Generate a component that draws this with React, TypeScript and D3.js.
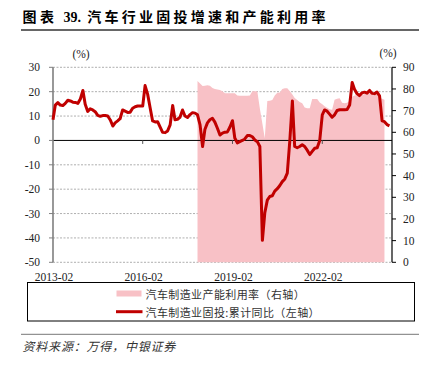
import React from "react";
import * as d3 from "d3";

// 汽车制造业固投:累计同比 (左轴), monthly from 2013-02
const lineStart = "2013-02";
const lineValues = [
  8.5, 14.5, 15.5, 14.5, 14.3, 15.2, 16.5, 16.2, 15.7, 15.6, 15.2, 17.0,
  20.5, 14.8, 11.9, 13.0, 12.5, 11.8, 10.3, 9.9, 10.2, 10.2, 10.0, 8.4,
  5.9, 7.2, 8.0, 8.9, 12.5, 12.0, 11.5, 11.6, 13.2, 13.8, 14.1, 14.1,
  14.1, 22.5, 19.0, 13.5, 8.0, 7.6, 7.7, 5.5, 3.3, 3.2, 3.9, 6.4,
  14.3, 8.5, 8.7, 9.5, 12.5, 10.0, 9.4, 10.6, 11.4, 11.2, 10.5, 6.4,
  -2.5, 4.5, 7.2, 8.5, 9.1, 7.5, 5.0, 2.2, 3.0, 3.4, 3.5, 5.5,
  8.1, 1.0, -1.0, -0.5, 0.0, 0.6, 2.0, 2.0, 1.5, 0.2, -0.5, -2.5,
  -41, -29.8, -24.5, -23, -22.7, -20.8, -19.8, -18.5, -16.9, -15.8, -13.4, 0,
  16.2, -2.5, -3.0, -2.5, -1.8, -2.5, -4.0, -5.8, -4.5, -3.2, -3.0, 0.0,
  10.5, 12.5, 12.0, 10.8, 9.5, 10.5, 12.3, 12.6, 12.6, 12.6, 12.7, 14.5,
  23.8, 21.0, 19.2, 18.4, 19.5, 19.8, 19.4, 20.5, 19.3, 19.2, 19.8, 18.3,
  8.0, 7.7, 6.5, 6.0,
];

// 汽车制造业产能利用率 (右轴), monthly from 2017-12
const areaStart = "2017-12";
const areaValues = [
  83.7, 82.5, 81.4, 81.5, 81.7, 81.5, 80.5, 80, 79.8, 79.5, 79, 78,
  78, 78, 78, 78, 77, 76.9, 76.9, 76.9, 76.9, 77, 79, 79,
  79, 71, 64, 57.2, 74.4, 74.6, 74.9, 77, 78.2, 78.4, 80, 80.3,
  80.3, 79, 77.5, 75.8, 74.9, 74, 73.4, 71.5, 71.1, 71.1, 75.4, 75.4,
  75.4, 73.8, 73, 72, 71.3, 70.6, 70.4, 75, 75.5, 75.7, 73.6, 73.4,
  73.6, 74.6, 76.4, 77, 77.2, 77.2, 77.2, 77.7, 78, 78, 78, 77.8,
  77.2, 76, 75.5, 75,
];

const leftTicks = [30, 20, 10, 0, -10, -20, -30, -40, -50];
const rightTicks = [90, 80, 70, 60, 50, 40, 30, 20, 10, 0];
const xTickLabels = ["2013-02", "2016-02", "2019-02", "2022-02"];
const xDomain = ["2013-02", "2024-06"];

const title = ["图表", "39.", "汽车行业固投增速和产能利用率"];
const legendArea = "汽车制造业产能利用率（右轴）";
const legendLine = "汽车制造业固投:累计同比（左轴）";
const source = "资料来源：万得，中银证券";

const RED = "#C00000";
const PINK = "#F8C1C6";
const SERIF = "'Liberation Serif', 'Times New Roman', serif";
const CJK = "'Noto Sans CJK SC', sans-serif";

export default function App() {
  const parse = d3.timeParse("%Y-%m");
  const l0 = parse(lineStart)!;
  const a0 = parse(areaStart)!;
  const lineData = lineValues.map((v, i) => ({ d: d3.timeMonth.offset(l0, i), v }));
  const areaData = areaValues.map((v, i) => ({ d: d3.timeMonth.offset(a0, i), v }));

  const x = d3.scaleTime().domain(xDomain.map((s) => parse(s)!)).range([53, 392]);
  const yL = d3.scaleLinear().domain([-50, 30]).range([262.3, 67.3]);
  const yR = d3.scaleLinear().domain([0, 90]).range([262.3, 67.3]);

  const lineGen = d3
    .line<{ d: Date; v: number }>()
    .x((p) => x(p.d))
    .y((p) => yL(p.v));
  const areaGen = d3
    .area<{ d: Date; v: number }>()
    .x((p) => x(p.d))
    .y0(yR(0))
    .y1((p) => yR(p.v));

  const [x0, x1] = x.range();

  return (
    <svg
      width={427}
      height={365}
      style={{ position: "absolute", left: 0, top: 0, background: "#fff" }}
    >
      <rect x={0} y={0} width={427} height={365} fill="#fff" />
      {/* title */}
      <text x={22.5} y={22} fontFamily={CJK} fontWeight={700} fontSize={14} letterSpacing={3.5} fill="#000">
        {title[0]}
      </text>
      <text x={63.5} y={22} fontFamily={SERIF} fontWeight={700} fontSize={14} fill="#000">
        {title[1]}
      </text>
      <text x={87.3} y={22} fontFamily={CJK} fontWeight={700} fontSize={14} letterSpacing={3.25} fill="#000">
        {title[2]}
      </text>
      <line x1={21} x2={419} y1={30} y2={30} stroke="#333" strokeWidth={1.3} />

      {/* units */}
      <text x={81} y={54} textAnchor="middle" dominantBaseline="central" fontFamily={SERIF} fontSize={11.5} fill="#222">
        (%)
      </text>
      <text x={388} y={53} textAnchor="middle" dominantBaseline="central" fontFamily={SERIF} fontSize={11.5} fill="#222">
        (%)
      </text>

      {/* gridlines */}
      {leftTicks
        .filter((t) => t !== 0)
        .map((t) => (
          <line
            key={"g" + t}
            x1={x0}
            x2={x1}
            y1={yL(t)}
            y2={yL(t)}
            stroke="#9a9a9a"
            strokeWidth={0.8}
            strokeDasharray="2 1.5"
          />
        ))}

      {/* area */}
      <path d={areaGen(areaData)!} fill={PINK} stroke="none" />

      {/* zero line */}
      <line x1={x0} x2={x1} y1={yL(0)} y2={yL(0)} stroke="#000" strokeWidth={1} />
      {xTickLabels.slice(1).map((s) => (
        <line key={"xt" + s} x1={x(parse(s)!)} x2={x(parse(s)!)} y1={yL(0)} y2={yL(0) + 3.5} stroke="#555" strokeWidth={1} />
      ))}

      {/* left axis */}
      <line x1={x0} x2={x0} y1={yL(30)} y2={yL(-50)} stroke="#7f7f7f" strokeWidth={1.6} />
      {leftTicks.map((t) => (
        <g key={"lt" + t}>
          <line x1={x0 - 4} x2={x0} y1={yL(t)} y2={yL(t)} stroke="#7f7f7f" strokeWidth={1} />
          <text x={40} y={yL(t)} textAnchor="end" dominantBaseline="central" fontFamily={SERIF} fontSize={11.5} fill="#222">
            {t}
          </text>
        </g>
      ))}

      {/* right axis */}
      <line x1={x1} x2={x1} y1={yR(90)} y2={yR(0)} stroke="#000" strokeWidth={1.2} />
      {rightTicks.map((t) => (
        <g key={"rt" + t}>
          <line x1={x1} x2={x1 + 4} y1={yR(t)} y2={yR(t)} stroke="#000" strokeWidth={1} />
          <text x={403} y={yR(t)} textAnchor="start" dominantBaseline="central" fontFamily={SERIF} fontSize={11.5} fill="#222">
            {t}
          </text>
        </g>
      ))}

      {/* x labels */}
      {xTickLabels.map((s) => (
        <text key={"xl" + s} x={x(parse(s)!) + 1} y={277} textAnchor="middle" dominantBaseline="central" fontFamily={SERIF} fontSize={11.5} fill="#222">
          {s}
        </text>
      ))}

      {/* line */}
      <path d={lineGen(lineData)!} fill="none" stroke={RED} strokeWidth={3} strokeLinejoin="round" />

      {/* legend */}
      <rect x={27.5} y={282.5} width={387} height={38.5} fill="#fff" stroke="#000" strokeWidth={1} />
      <rect x={116.5} y={290.5} width={25} height={6} fill={PINK} />
      <text x={145.5} y={293.5} dominantBaseline="central" fontFamily={CJK} fontSize={11} letterSpacing={0.4} fill="#333">
        {legendArea}
      </text>
      <line x1={116} x2={142.5} y1={311.7} y2={311.7} stroke={RED} strokeWidth={3} />
      <text x={145.5} y={311.7} dominantBaseline="central" fontFamily={CJK} fontSize={11} letterSpacing={0.4} fill="#333">
        {legendLine}
      </text>

      {/* source */}
      <line x1={21} x2={419} y1={334.3} y2={334.3} stroke="#777" strokeWidth={1} />
      <text x={22.5} y={345.7} dominantBaseline="central" fontFamily={CJK} fontStyle="italic" fontSize={12} letterSpacing={0.8} fill="#333">
        {source}
      </text>
    </svg>
  );
}
